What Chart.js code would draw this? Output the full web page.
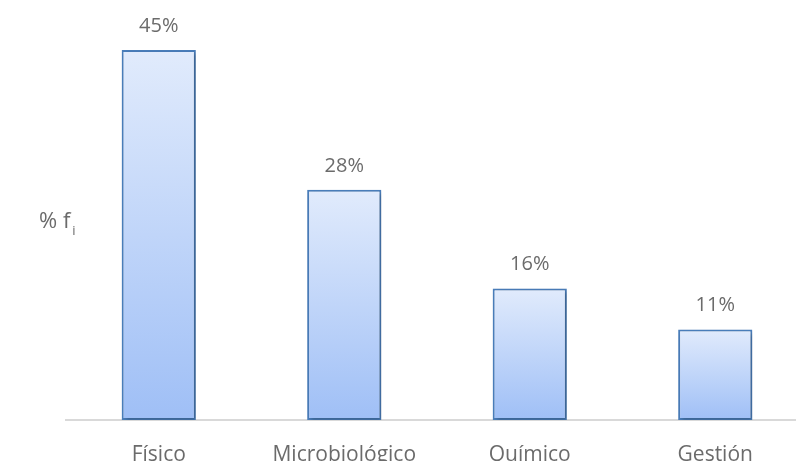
<!DOCTYPE html>
<html>
<head>
<meta charset="utf-8">
<script src="https://cdn.jsdelivr.net/npm/chart.js@4/dist/chart.umd.min.js"></script>
<style>
  html, body { margin: 0; padding: 0; background: #fff; overflow: hidden; }
  #wrap { width: 808px; height: 461px; }
</style>
</head>
<body>
<div id="wrap"><canvas id="chart"></canvas></div>
<script>
const categories = ['Físico', 'Microbiológico', 'Químico', 'Gestión'];
const percentValues = [45, 28, 16, 11];

const FONT = '"Open Sans", sans-serif';
const GREY = '#6b6b6b';

// gradient per bar, light at the top and darker at the base
function barFill(ctx) {
  const chart = ctx.chart;
  const y = chart.scales.y;
  if (!chart.chartArea || !y || ctx.type !== 'data') return '#c3d6f8';
  const top = y.getPixelForValue(ctx.raw);
  const bottom = y.getPixelForValue(0);
  if (!isFinite(top) || !isFinite(bottom)) return '#c3d6f8';
  const g = chart.ctx.createLinearGradient(0, top, 0, bottom);
  g.addColorStop(0, '#e1ebfc');
  g.addColorStop(1, '#9fbff6');
  return g;
}

const shadowPlugin = {
  id: 'barShadow',
  beforeDatasetDraw(chart) {
    const c = chart.ctx;
    c.save();
    c.shadowColor = 'rgba(0,0,0,0.25)';
    c.shadowBlur = 4;
    c.shadowOffsetX = 2;
    c.shadowOffsetY = 2;
  },
  afterDatasetDraw(chart) {
    chart.ctx.restore();
  },
};

const labelsPlugin = {
  id: 'valueLabels',
  afterDatasetsDraw(chart) {
    const c = chart.ctx;
    const meta = chart.getDatasetMeta(0);
    c.save();
    c.font = '20px ' + FONT;
    c.fillStyle = GREY;
    c.textAlign = 'center';
    c.textBaseline = 'middle';
    meta.data.forEach((bar, i) => {
      c.fillText(percentValues[i] + '%', bar.x, bar.y - 24);
    });
    c.restore();
  },
};

const yTitlePlugin = {
  id: 'yTitle',
  afterDraw(chart) {
    const c = chart.ctx;
    const area = chart.chartArea;
    const midY = (area.top + area.bottom) / 2;
    c.save();
    c.fillStyle = GREY;
    c.textBaseline = 'middle';
    c.textAlign = 'left';
    c.font = '22px ' + FONT;
    c.fillText('% f', area.left - 27, midY + 7);
    const w = c.measureText('% f').width;
    c.font = '13px ' + FONT;
    c.fillText('i', area.left - 27 + w + 2, midY + 17);
    c.restore();
  },
};

new Chart(document.getElementById('chart'), {
  type: 'bar',
  data: {
    labels: categories,
    datasets: [{
      data: percentValues,
      backgroundColor: barFill,
      borderColor: '#4a7ebb',
      borderWidth: 2,
      borderSkipped: false,
      categoryPercentage: 0.4,
      barPercentage: 1.0,
    }],
  },
  options: {
    responsive: true,
    maintainAspectRatio: false,
    animation: false,
    layout: { padding: { left: 66, right: 0, top: 9, bottom: 0 } },
    plugins: {
      legend: { display: false },
      tooltip: { enabled: false },
    },
    scales: {
      x: {
        grid: { display: false },
        border: { display: true, color: '#d9d9d9', width: 2 },
        ticks: {
          color: GREY,
          font: { family: FONT, size: 21 },
          padding: 14,
          maxRotation: 0,
        },
        afterFit(scale) { scale.height = 41; },
      },
      y: {
        display: false,
        min: 0,
        max: 50,
      },
    },
  },
  plugins: [shadowPlugin, labelsPlugin, yTitlePlugin],
});
</script>
</body>
</html>
